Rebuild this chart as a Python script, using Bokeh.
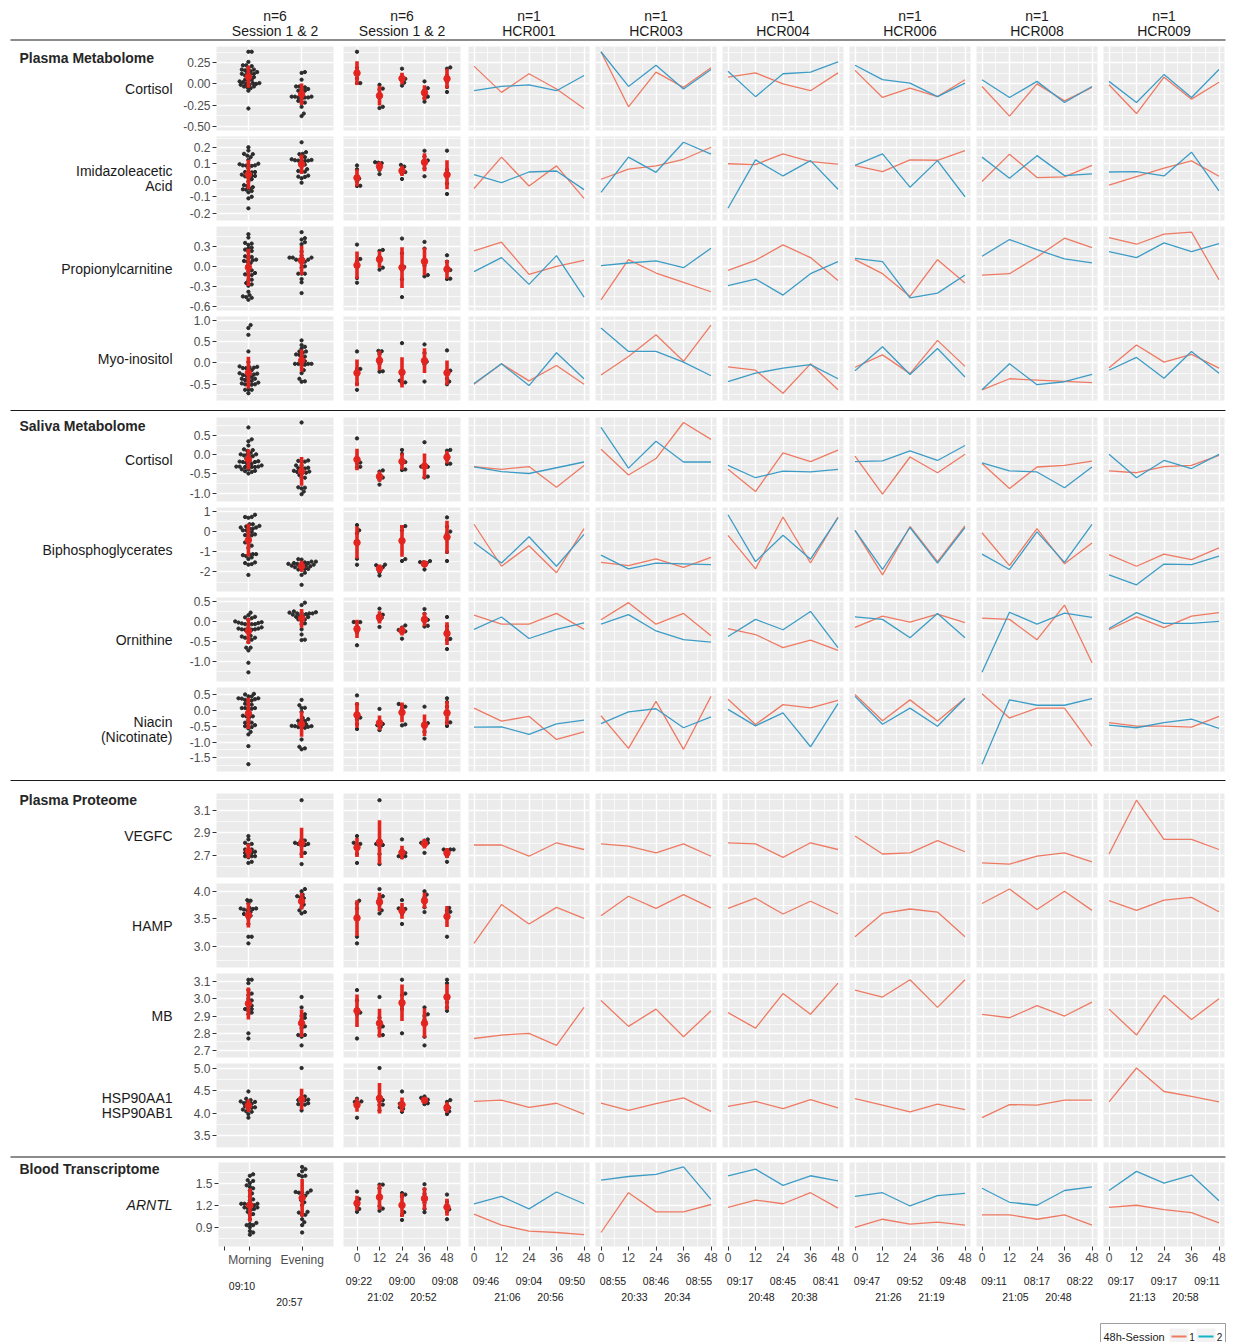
import numpy as np
from bokeh.plotting import figure
from bokeh.layouts import column, row
from bokeh.models import FixedTicker, Range1d, LinearAxis, CustomJSTickFormatter, Grid, Label
from bokeh.embed import file_html
from bokeh.resources import INLINE
from bokeh.core.properties import value

# ----------------------------------------------------------------- data
SUBJECTS = ["HCR001", "HCR003", "HCR004", "HCR006", "HCR008", "HCR009"]
TIMEPOINTS = [0, 12, 24, 36, 48]
MORNING_POINTS = [0, 24, 48]
EVENING_POINTS = [12, 36]
GROUPS = ["Morning", "Evening"]

PLASMA_CORTISOL_S1 = {
    "HCR001": [0.21, -0.10, 0.12, -0.06, -0.29],
    "HCR003": [0.38, -0.27, 0.14, -0.04, 0.19],
    "HCR004": [0.08, 0.13, 0.00, -0.08, 0.13],
    "HCR006": [0.16, -0.16, -0.05, -0.15, 0.05],
    "HCR008": [-0.03, -0.38, 0.00, -0.20, -0.04],
    "HCR009": [-0.01, -0.35, 0.08, -0.18, 0.02],
}
PLASMA_CORTISOL_S2 = {
    "HCR001": [-0.08, -0.03, -0.01, -0.08, 0.10],
    "HCR003": [0.38, -0.03, 0.22, -0.06, 0.17],
    "HCR004": [0.15, -0.15, 0.12, 0.14, 0.26],
    "HCR006": [0.22, 0.05, 0.01, -0.15, 0.01],
    "HCR008": [0.05, -0.16, 0.03, -0.22, -0.03],
    "HCR009": [0.03, -0.22, 0.11, -0.16, 0.17],
}
IMIDAZOLEACETIC_S1 = {
    "HCR001": [-0.05, 0.14, -0.035, 0.087, -0.11],
    "HCR003": [0.006, 0.067, 0.087, 0.127, 0.20],
    "HCR004": [0.10, 0.095, 0.16, 0.113, 0.097],
    "HCR006": [0.089, 0.052, 0.123, 0.121, 0.18],
    "HCR008": [-0.008, 0.158, 0.016, 0.02, 0.09],
    "HCR009": [-0.03, 0.022, 0.073, 0.117, 0.024],
}
IMIDAZOLEACETIC_S2 = {
    "HCR001": [0.034, -0.015, 0.05, 0.056, -0.057],
    "HCR003": [-0.073, 0.14, 0.048, 0.23, 0.158],
    "HCR004": [-0.17, 0.123, 0.026, 0.119, -0.055],
    "HCR006": [0.09, 0.16, -0.042, 0.119, -0.10],
    "HCR008": [0.14, 0.012, 0.149, 0.028, 0.038],
    "HCR009": [0.05, 0.052, 0.026, 0.17, -0.065],
}
PROPIONYLCARNITINE_S1 = {
    "HCR001": [0.23, 0.36, -0.12, 0.00, 0.09],
    "HCR003": [-0.50, 0.10, -0.10, -0.24, -0.38],
    "HCR004": [-0.06, 0.09, 0.32, 0.13, -0.21],
    "HCR006": [0.10, -0.11, -0.45, 0.10, -0.25],
    "HCR008": [-0.13, -0.11, 0.14, 0.42, 0.28],
    "HCR009": [0.43, 0.33, 0.48, 0.51, -0.20],
}
PROPIONYLCARNITINE_S2 = {
    "HCR001": [-0.08, 0.13, -0.27, 0.16, -0.46],
    "HCR003": [0.01, 0.05, 0.08, -0.02, 0.27],
    "HCR004": [-0.29, -0.19, -0.43, -0.11, 0.07],
    "HCR006": [0.12, 0.07, -0.47, -0.40, -0.13],
    "HCR008": [0.15, 0.40, 0.25, 0.11, 0.05],
    "HCR009": [0.22, 0.13, 0.35, 0.22, 0.34],
}
MYO_INOSITOL_S1 = {
    "HCR001": [-0.50, -0.02, -0.42, -0.06, -0.50],
    "HCR003": [-0.28, 0.15, 0.66, 0.04, 0.89],
    "HCR004": [-0.09, -0.17, -0.71, -0.02, -0.63],
    "HCR006": [-0.10, 0.19, -0.25, 0.53, -0.08],
    "HCR008": [-0.63, -0.37, -0.40, -0.43, -0.46],
    "HCR009": [-0.11, 0.42, 0.02, 0.20, -0.12],
}
MYO_INOSITOL_S2 = {
    "HCR001": [-0.48, -0.02, -0.53, 0.24, -0.37],
    "HCR003": [0.82, 0.27, 0.27, 0.02, -0.30],
    "HCR004": [-0.44, -0.24, -0.12, -0.04, -0.37],
    "HCR006": [-0.18, 0.38, -0.27, 0.34, -0.33],
    "HCR008": [-0.63, -0.02, -0.51, -0.44, -0.27],
    "HCR009": [-0.17, 0.13, -0.36, 0.27, -0.24],
}
SALIVA_CORTISOL_S1 = {
    "HCR001": [-0.31, -0.38, -0.31, -0.85, -0.28],
    "HCR003": [0.14, -0.53, -0.10, 0.84, 0.40],
    "HCR004": [-0.38, -0.96, 0.05, -0.18, 0.12],
    "HCR006": [-0.04, -1.03, -0.06, -0.47, 0.01],
    "HCR008": [-0.23, -0.88, -0.32, -0.28, -0.17],
    "HCR009": [-0.42, -0.47, -0.31, -0.28, -0.02],
}
SALIVA_CORTISOL_S2 = {
    "HCR001": [-0.32, -0.44, -0.49, -0.34, -0.19],
    "HCR003": [0.71, -0.35, 0.35, -0.19, -0.19],
    "HCR004": [-0.28, -0.60, -0.43, -0.45, -0.38],
    "HCR006": [-0.18, -0.16, 0.10, -0.15, 0.24],
    "HCR008": [-0.21, -0.42, -0.45, -0.86, -0.32],
    "HCR009": [0.01, -0.60, -0.15, -0.36, 0.01],
}
BIPHOSPHOGLYCERATES_S1 = {
    "HCR001": [0.36, -1.72, -0.70, -2.04, 0.14],
    "HCR003": [-1.53, -1.69, -1.36, -1.77, -1.28],
    "HCR004": [-0.19, -1.85, 0.72, -1.56, 0.72],
    "HCR006": [0.06, -2.15, 0.25, -1.49, 0.28],
    "HCR008": [-0.06, -1.69, 0.14, -1.60, -0.57],
    "HCR009": [-1.14, -1.72, -1.12, -1.39, -0.81],
}
BIPHOSPHOGLYCERATES_S2 = {
    "HCR001": [-0.54, -1.56, -0.26, -1.72, -0.14],
    "HCR003": [-1.17, -1.85, -1.56, -1.60, -1.64],
    "HCR004": [0.83, -1.49, -0.18, -1.37, 0.68],
    "HCR006": [0.06, -1.88, 0.20, -1.56, 0.20],
    "HCR008": [-1.12, -1.88, -0.02, -1.53, 0.36],
    "HCR009": [-2.15, -2.64, -1.61, -1.64, -1.22],
}
ORNITHINE_S1 = {
    "HCR001": [0.155, -0.07, -0.07, 0.20, -0.20],
    "HCR003": [0.04, 0.47, -0.07, 0.20, -0.36],
    "HCR004": [-0.18, -0.33, -0.66, -0.47, -0.73],
    "HCR006": [-0.15, 0.13, -0.02, 0.18, -0.03],
    "HCR008": [0.08, 0.05, -0.46, 0.41, -1.04],
    "HCR009": [-0.21, 0.115, -0.155, 0.13, 0.22],
}
ORNITHINE_S2 = {
    "HCR001": [-0.20, 0.11, -0.43, -0.20, -0.04],
    "HCR003": [-0.07, 0.17, -0.24, -0.46, -0.52],
    "HCR004": [-0.38, 0.05, -0.21, 0.25, -0.66],
    "HCR006": [0.115, 0.05, -0.41, 0.20, -0.41],
    "HCR008": [-1.28, 0.23, -0.07, 0.21, 0.10],
    "HCR009": [-0.18, 0.22, -0.05, -0.05, 0.00],
}
NIACIN_S1 = {
    "HCR001": [0.07, -0.34, -0.19, -0.92, -0.68],
    "HCR003": [-0.17, -1.20, 0.28, -1.23, 0.44],
    "HCR004": [0.35, -0.45, 0.18, 0.08, 0.31],
    "HCR006": [0.50, -0.33, 0.33, -0.34, 0.38],
    "HCR008": [0.52, -0.24, 0.07, 0.07, -1.13],
    "HCR009": [-0.39, -0.50, -0.50, -0.53, -0.19],
}
NIACIN_S2 = {
    "HCR001": [-0.53, -0.52, -0.76, -0.43, -0.31],
    "HCR003": [-0.42, -0.05, 0.05, -0.55, -0.21],
    "HCR004": [0.03, -0.49, -0.08, -1.15, 0.21],
    "HCR006": [0.44, -0.44, 0.07, -0.50, 0.38],
    "HCR008": [-1.70, 0.33, 0.16, 0.16, 0.37],
    "HCR009": [-0.47, -0.55, -0.39, -0.28, -0.57],
}
VEGFC_S1 = {
    "HCR001": [2.79, 2.79, 2.69, 2.81, 2.75],
    "HCR003": [2.80, 2.78, 2.72, 2.80, 2.69],
    "HCR004": [2.81, 2.80, 2.68, 2.81, 2.75],
    "HCR006": [2.87, 2.71, 2.72, 2.83, 2.73],
    "HCR008": [2.63, 2.62, 2.69, 2.72, 2.64],
    "HCR009": [2.71, 3.19, 2.84, 2.84, 2.75],
}
HAMP_S1 = {
    "HCR001": [3.06, 3.76, 3.41, 3.71, 3.51],
    "HCR003": [3.56, 3.91, 3.69, 3.94, 3.70],
    "HCR004": [3.69, 3.875, 3.59, 3.82, 3.59],
    "HCR006": [3.18, 3.60, 3.68, 3.625, 3.18],
    "HCR008": [3.78, 4.04, 3.67, 4.00, 3.655],
    "HCR009": [3.83, 3.655, 3.84, 3.89, 3.63],
}
MB_S1 = {
    "HCR001": [2.77, 2.79, 2.80, 2.73, 2.95],
    "HCR003": [2.99, 2.84, 2.94, 2.78, 2.93],
    "HCR004": [2.92, 2.83, 3.03, 2.91, 3.09],
    "HCR006": [3.05, 3.01, 3.11, 2.95, 3.11],
    "HCR008": [2.91, 2.89, 2.96, 2.90, 2.98],
    "HCR009": [2.94, 2.79, 3.02, 2.88, 3.00],
}
HSP90_S1 = {
    "HCR001": [4.26, 4.29, 4.13, 4.22, 3.98],
    "HCR003": [4.22, 4.06, 4.21, 4.34, 4.04],
    "HCR004": [4.15, 4.26, 4.10, 4.30, 4.12],
    "HCR006": [4.32, 4.18, 4.03, 4.20, 4.08],
    "HCR008": [3.90, 4.19, 4.18, 4.29, 4.29],
    "HCR009": [4.25, 5.00, 4.48, 4.37, 4.25],
}
ARNTL_S1 = {
    "HCR001": [1.08, 0.93, 0.85, 0.83, 0.80],
    "HCR003": [0.83, 1.37, 1.11, 1.11, 1.21],
    "HCR004": [1.17, 1.27, 1.22, 1.37, 1.16],
    "HCR006": [0.90, 1.01, 0.945, 0.97, 0.93],
    "HCR008": [1.07, 1.07, 1.01, 1.07, 0.93],
    "HCR009": [1.17, 1.20, 1.14, 1.10, 0.96],
}
ARNTL_S2 = {
    "HCR001": [1.22, 1.32, 1.15, 1.38, 1.22],
    "HCR003": [1.54, 1.59, 1.62, 1.72, 1.28],
    "HCR004": [1.60, 1.69, 1.47, 1.60, 1.53],
    "HCR006": [1.32, 1.37, 1.19, 1.33, 1.36],
    "HCR008": [1.43, 1.24, 1.20, 1.40, 1.45],
    "HCR009": [1.40, 1.66, 1.50, 1.61, 1.26],
}

CLOCK_GROUP = ["09:10", "20:57"]
CLOCK_POOLED = ["09:22", "21:02", "09:00", "20:52", "09:08"]
CLOCK_SUBJECT = {
    "HCR001": ["09:46", "21:06", "09:04", "20:56", "09:50"],
    "HCR003": ["08:55", "20:33", "08:46", "20:34", "08:55"],
    "HCR004": ["09:17", "20:48", "08:45", "20:38", "08:41"],
    "HCR006": ["09:47", "21:26", "09:52", "21:19", "09:48"],
    "HCR008": ["09:11", "21:05", "08:17", "20:48", "08:22"],
    "HCR009": ["09:17", "21:13", "09:17", "20:58", "09:11"],
}

SECTIONS = ["Plasma Metabolome", "Saliva Metabolome", "Plasma Proteome", "Blood Transcriptome"]

# feature rows: (section, label lines, session1, session2, y ticks, y tick labels, y range)
ROWS = [
    (SECTIONS[0], ["Cortisol"], PLASMA_CORTISOL_S1, PLASMA_CORTISOL_S2,
     [-0.5, -0.25, 0.0, 0.25], ["-0.50", "-0.25", "0.00", "0.25"], (-0.55, 0.442)),
    (None, ["Imidazoleacetic", "Acid"], IMIDAZOLEACETIC_S1, IMIDAZOLEACETIC_S2,
     [-0.2, -0.1, 0.0, 0.1, 0.2], ["-0.2", "-0.1", "0.0", "0.1", "0.2"], (-0.244, 0.265)),
    (None, ["Propionylcarnitine"], PROPIONYLCARNITINE_S1, PROPIONYLCARNITINE_S2,
     [-0.6, -0.3, 0.0, 0.3], ["-0.6", "-0.3", "0.0", "0.3"], (-0.66, 0.595)),
    (None, ["Myo-inositol"], MYO_INOSITOL_S1, MYO_INOSITOL_S2,
     [-0.5, 0.0, 0.5, 1.0], ["-0.5", "0.0", "0.5", "1.0"], (-0.88, 1.09)),
    (SECTIONS[1], ["Cortisol"], SALIVA_CORTISOL_S1, SALIVA_CORTISOL_S2,
     [-1.0, -0.5, 0.0, 0.5], ["-1.0", "-0.5", "0.0", "0.5"], (-1.22, 0.97)),
    (None, ["Biphosphoglycerates"], BIPHOSPHOGLYCERATES_S1, BIPHOSPHOGLYCERATES_S2,
     [-2, -1, 0, 1], ["-2", "-1", "0", "1"], (-2.97, 1.19)),
    (None, ["Ornithine"], ORNITHINE_S1, ORNITHINE_S2,
     [-1.0, -0.5, 0.0, 0.5], ["-1.0", "-0.5", "0.0", "0.5"], (-1.51, 0.60)),
    (None, ["Niacin", "(Nicotinate)"], NIACIN_S1, NIACIN_S2,
     [-1.5, -1.0, -0.5, 0.0, 0.5], ["-1.5", "-1.0", "-0.5", "0.0", "0.5"], (-1.93, 0.72)),
    (SECTIONS[2], ["VEGFC"], VEGFC_S1, None,
     [2.7, 2.9, 3.1], ["2.7", "2.9", "3.1"], (2.5, 3.25)),
    (None, ["HAMP"], HAMP_S1, None,
     [3.0, 3.5, 4.0], ["3.0", "3.5", "4.0"], (2.625, 4.14)),
    (None, ["MB"], MB_S1, None,
     [2.7, 2.8, 2.9, 3.0, 3.1], ["2.7", "2.8", "2.9", "3.0", "3.1"], (2.66, 3.146)),
    (None, ["HSP90AA1", "HSP90AB1"], HSP90_S1, None,
     [3.5, 4.0, 4.5, 5.0], ["3.5", "4.0", "4.5", "5.0"], (3.24, 5.1)),
    (SECTIONS[3], ["ARNTL"], ARNTL_S1, ARNTL_S2,
     [0.9, 1.2, 1.5], ["0.9", "1.2", "1.5"], (0.64, 1.78)),
]

# ----------------------------------------------------------------- style / layout
FONT = "Liberation Sans"
PANEL_BG = "#EBEBEB"
PT_COLOR = "#2B2B2B"
SUM_COLOR = "#E3241F"
S1_COLOR = "#EE7A63"
S2_COLOR = "#3D9CC6"
TEXT_DARK = "#1A1A1A"
TICK_TEXT = "#4D4D4D"

TOTAL_W = 1226
LABEL_W, C1_W, C1_BL, C1_BR = 178, 160, 38, 5
LABEL_W_B, C1_W_B, C1_BL_B = 192, 146, 24
C2_W, C2_BL, C2_BR = 127, 5, 5
LN_W, LN_BL, LN_BR = 127, 3, 3
FRAME_H, BT, BB = 84, 3, 3
BB_BOTTOM = 64
ROW_BT = {8: 7}          # extra room above the "Plasma Proteome" row

C1_XR = (0.4, 2.6)
C2_XR = (-7.2, 55.2)
LN_XR = (-2.4, 50.4)
C1_FRAME_W = C1_W - C1_BL - C1_BR
C2_FRAME_W = C2_W - C2_BL - C2_BR
LN_FRAME_W = LN_W - LN_BL - LN_BR

NEAREST = """
let best = 0;
for (let i = 1; i < pos.length; i++) {
  if (Math.abs(pos[i] - tick) < Math.abs(pos[best] - tick)) { best = i; }
}
return labels[best];
"""


def fmt(pos, labels):
    return CustomJSTickFormatter(args=dict(pos=list(pos), labels=list(labels)), code=NEAREST)


def minor_of(ticks, lo, hi):
    step = ticks[1] - ticks[0]
    cands = [ticks[0] - step / 2] + [t + step / 2 for t in ticks]
    return [c for c in cands if lo < c < hi]


def swarm(vals, center, ppx, ppy, d=3.3):
    vals = np.asarray(vals, float)
    order = np.argsort(vals, kind="stable")
    placed = []
    xs = np.zeros(len(vals))
    for i in order:
        y = vals[i] * ppy
        chosen = 0.0
        for k in range(0, 200):
            cands = [0.0] if k == 0 else [k * d / 3, -k * d / 3]
            ok_c = None
            for c in cands:
                if all((c - px) ** 2 + (y - py) ** 2 >= d * d * 0.98 for px, py in placed):
                    ok_c = c
                    break
            if ok_c is not None:
                chosen = ok_c
                break
        placed.append((chosen, y))
        xs[i] = center + chosen / ppx
    return xs


def deco_fig(w, h, bt=0, bb=0):
    # y data units = pixels below the frame top
    fh = h - bt - bb
    p = figure(width=w, height=h, x_range=Range1d(0, w), y_range=Range1d(fh, 0),
               output_backend="svg", toolbar_location=None,
               x_axis_location=None, y_axis_location=None,
               min_border_left=0, min_border_right=0, min_border_top=bt, min_border_bottom=bb)
    p.grid.visible = False
    p.outline_line_color = None
    p.background_fill_color = "white"
    p.border_fill_color = "white"
    return p


def add_label(p, x, y, text, align="left", size="14px", style="normal", color=TEXT_DARK):
    p.add_layout(Label(x=x, y=y, text=text, text_align=align, text_baseline="middle",
                       text_font=FONT, text_font_size=size, text_font_style=style,
                       text_color=color))


def panel_fig(w, h, xr, yr, bl, br, bt, bb, yaxis=False, xaxis=False):
    p = figure(width=w, height=h, x_range=Range1d(*xr), y_range=Range1d(*yr),
               output_backend="svg", toolbar_location=None,
               x_axis_location="below" if xaxis else None,
               y_axis_location="left" if yaxis else None,
               min_border_left=bl, min_border_right=br,
               min_border_top=bt, min_border_bottom=bb)
    p.background_fill_color = PANEL_BG
    p.border_fill_color = "white"
    p.outline_line_color = None
    p.center = [r for r in p.center if not isinstance(r, Grid)]
    return p


def add_grids(p, xt, xminor, yt, yminor):
    gx = Grid(dimension=0, ticker=FixedTicker(ticks=xt, minor_ticks=xminor),
              grid_line_color="white", grid_line_width=1.4,
              minor_grid_line_color="white" if xminor else None, minor_grid_line_width=0.7)
    gy = Grid(dimension=1, ticker=FixedTicker(ticks=yt, minor_ticks=yminor),
              grid_line_color="white", grid_line_width=1.4,
              minor_grid_line_color="white", minor_grid_line_width=0.7)
    p.add_layout(gx, "center")
    p.add_layout(gy, "center")


def style_axis(ax, size="12px", color=TICK_TEXT):
    ax.axis_line_color = None
    ax.major_tick_line_color = "#333333"
    ax.major_tick_out = 4
    ax.major_tick_in = 0
    ax.minor_tick_line_color = None
    ax.major_label_standoff = 2
    ax.major_label_text_font = FONT
    ax.major_label_text_font_size = size
    ax.major_label_text_color = color


def add_clock_axis(p, pos, labels, standoff):
    ax = LinearAxis(ticker=FixedTicker(ticks=list(pos)), formatter=fmt(pos, labels))
    ax.axis_line_color = None
    ax.major_tick_line_color = None
    ax.minor_tick_line_color = None
    ax.major_tick_out = 0
    ax.major_tick_in = 0
    ax.major_label_standoff = standoff
    ax.major_label_text_font = FONT
    ax.major_label_text_font_size = "10.5px"
    ax.major_label_text_color = TEXT_DARK
    p.add_layout(ax, "below")


def sessions_of(s1, s2):
    return [s1] if s2 is None else [s1, s2]


# clock label placement (evenly spread labels, as in the reference)
CLOCK_STEP_PX = 21.5
MAIN_STANDOFF, CLOCK1_STANDOFF, CLOCK2_STANDOFF = 2, 10, 1


def clock_positions(frame_w, xr):
    ppx = frame_w / (xr[1] - xr[0])
    k = CLOCK_STEP_PX / (12 * ppx)
    return [24 + (t - 24) * k for t in TIMEPOINTS]


# ----------------------------------------------------------------- build
layout_rows = []

# header
header = deco_fig(TOTAL_W, 43)
col_centers = []
x0 = LABEL_W
col_centers.append(x0 + C1_BL + C1_FRAME_W / 2)
x0 += C1_W
col_centers.append(x0 + C2_BL + C2_FRAME_W / 2)
x0 += C2_W
for _ in SUBJECTS:
    col_centers.append(x0 + LN_BL + LN_FRAME_W / 2)
    x0 += LN_W
top_texts = ["n=6", "n=6"] + ["n=1"] * len(SUBJECTS)
bot_texts = ["Session 1 & 2", "Session 1 & 2"] + SUBJECTS
header.text(x=col_centers, y=[15.7] * len(col_centers), text=top_texts, text_align="center",
            text_baseline="middle", text_font=value(FONT), text_font_size=value("14px"),
            text_color=TEXT_DARK)
header.text(x=col_centers, y=[30.7] * len(col_centers), text=bot_texts, text_align="center",
            text_baseline="middle", text_font=value(FONT), text_font_size=value("14px"),
            text_color=TEXT_DARK)
header.line([10, TOTAL_W - 1], [39.5, 39.5], line_color=TEXT_DARK, line_width=1.1)
layout_rows.append(header)

SEP_AFTER = {3: (11, 6.0), 7: (12, 6.0), 11: (9, 3.5)}
TITLE_Y = {0: 11.0, 4: 8.7, 8: 6.3, 12: 6.3}   # pixels below the frame top

for ri, (section, label_lines, s1, s2, yt, ytl, yr) in enumerate(ROWS):
    bottom = ri == len(ROWS) - 1
    bt = ROW_BT.get(ri, BT)
    bb = BB_BOTTOM if bottom else BB
    h = FRAME_H + bt + bb
    sess = sessions_of(s1, s2)
    yminor = minor_of(yt, yr[0], yr[1])
    ppy = FRAME_H / (yr[1] - yr[0])
    figs = []

    # --- label column
    lw = LABEL_W_B if bottom else LABEL_W
    lab = deco_fig(lw, h, bt, bb)
    cy = FRAME_H / 2
    n = len(label_lines)
    for i, line in enumerate(label_lines):
        add_label(lab, 172, cy + (i - (n - 1) / 2) * 15, line, align="right",
                  style="italic" if section == SECTIONS[3] else "normal")
    if section is not None:
        add_label(lab, 19, TITLE_Y[ri], section, style="bold", color="#262626")
    if bottom:
        add_label(lab, 190, 94, "Collection time of day / point", align="right", size="12px")
        add_label(lab, 190, 131, "Clock Time [HH:mm]", align="right", size="12px")
    figs.append(lab)

    # --- column 1: morning / evening swarm
    c1w = C1_W_B if bottom else C1_W
    c1bl = C1_BL_B if bottom else C1_BL
    p1 = panel_fig(c1w, h, C1_XR, yr, c1bl, C1_BR, bt, bb, yaxis=True, xaxis=bottom)
    add_grids(p1, [1, 2], [], yt, yminor)
    ya = p1.yaxis[0]
    ya.ticker = FixedTicker(ticks=yt)
    ya.formatter = fmt(yt, ytl)
    style_axis(ya)
    ppx1 = C1_FRAME_W / (C1_XR[1] - C1_XR[0])
    for gi, pts in enumerate([MORNING_POINTS, EVENING_POINTS]):
        vals = [ss[s][TIMEPOINTS.index(t)] for s in SUBJECTS for ss in sess for t in pts]
        xs = swarm(vals, gi + 1, ppx1, ppy)
        p1.scatter(xs, vals, size=3.3, color=PT_COLOR)
        m, sd = float(np.mean(vals)), float(np.std(vals, ddof=1))
        p1.segment([gi + 1], [m - sd], [gi + 1], [m + sd], line_width=3.6, line_color=SUM_COLOR)
        p1.scatter([gi + 1], [m], size=6.5, color=SUM_COLOR)
    if bottom:
        xa = p1.xaxis[0]
        xa.ticker = FixedTicker(ticks=[0.51, 1, 2])
        xa.formatter = fmt([0.51, 1, 2], [""] + GROUPS)
        style_axis(xa)
        xa.major_label_standoff = MAIN_STANDOFF
        add_clock_axis(p1, [1 - 8 / ppx1], [CLOCK_GROUP[0]], CLOCK1_STANDOFF)
        add_clock_axis(p1, [2 - 13 / ppx1], [CLOCK_GROUP[1]], CLOCK2_STANDOFF)
    figs.append(p1)

    # --- column 2: pooled per time point
    p2 = panel_fig(C2_W, h, C2_XR, yr, C2_BL, C2_BR, bt, bb, xaxis=bottom)
    add_grids(p2, TIMEPOINTS, [], yt, yminor)
    ppx2 = C2_FRAME_W / (C2_XR[1] - C2_XR[0])
    for k, t in enumerate(TIMEPOINTS):
        vals = [float(np.mean([ss[s][k] for ss in sess])) for s in SUBJECTS]
        xs = swarm(vals, t, ppx2, ppy)
        p2.scatter(xs, vals, size=3.3, color=PT_COLOR)
        m, sd = float(np.mean(vals)), float(np.std(vals, ddof=1))
        p2.segment([t], [m - sd], [t], [m + sd], line_width=3.6, line_color=SUM_COLOR)
        p2.scatter([t], [m], size=6.5, color=SUM_COLOR)
    if bottom:
        xa = p2.xaxis[0]
        xa.ticker = FixedTicker(ticks=TIMEPOINTS)
        style_axis(xa)
        xa.major_label_standoff = MAIN_STANDOFF
        cp = clock_positions(C2_FRAME_W, C2_XR)
        add_clock_axis(p2, cp[0::2], CLOCK_POOLED[0::2], CLOCK1_STANDOFF)
        add_clock_axis(p2, cp[1::2], CLOCK_POOLED[1::2], CLOCK2_STANDOFF)
    figs.append(p2)

    # --- individual subjects
    for si, subj in enumerate(SUBJECTS):
        last = si == len(SUBJECTS) - 1
        w = LN_W - 1 if last else LN_W
        br = LN_BR - 1 if last else LN_BR
        pl = panel_fig(w, h, LN_XR, yr, LN_BL, br, bt, bb, xaxis=bottom)
        add_grids(pl, TIMEPOINTS, [6, 18, 30, 42], yt, yminor)
        pl.line(TIMEPOINTS, s1[subj], line_color=S1_COLOR, line_width=1.3)
        if s2 is not None:
            pl.line(TIMEPOINTS, s2[subj], line_color=S2_COLOR, line_width=1.3)
        if bottom:
            xa = pl.xaxis[0]
            xa.ticker = FixedTicker(ticks=TIMEPOINTS)
            style_axis(xa)
            xa.major_label_standoff = MAIN_STANDOFF
            cp = clock_positions(LN_FRAME_W, LN_XR)
            add_clock_axis(pl, cp[0::2], CLOCK_SUBJECT[subj][0::2], CLOCK1_STANDOFF)
            add_clock_axis(pl, cp[1::2], CLOCK_SUBJECT[subj][1::2], CLOCK2_STANDOFF)
        figs.append(pl)

    layout_rows.append(row(*figs))

    if ri in SEP_AFTER:
        sh, sy = SEP_AFTER[ri]
        sep = deco_fig(TOTAL_W, sh)
        sep.line([10, TOTAL_W - 1], [sy, sy], line_color=TEXT_DARK, line_width=1.1)
        layout_rows.append(sep)

# footer with legend
foot = deco_fig(TOTAL_W, 32)
foot.quad(left=[1100], right=[1225], top=[13], bottom=[60], fill_color="white",
          line_color="#9E9E9E", line_width=1)
foot.text(x=[1103], y=[26], text=["48h-Session"], text_align="left", text_baseline="middle",
          text_font=value(FONT), text_font_size=value("11px"), text_color=TEXT_DARK)
foot.quad(left=[1169, 1196], right=[1188, 1215], top=[18, 18], bottom=[34, 34],
          fill_color="#F2F2F2", line_color=None)
foot.segment(x0=[1171, 1198], y0=[26, 26], x1=[1186, 1213], y1=[26, 26],
             line_color=[S1_COLOR, "#14B4C8"], line_width=2)
foot.text(x=[1191.5, 1219], y=[26, 26], text=["1", "2"], text_align="center",
          text_baseline="middle", text_font=value(FONT), text_font_size=value("10px"),
          text_color=TEXT_DARK)
layout_rows.append(foot)

page = column(*layout_rows, spacing=0)
open("out.html", "w").write(file_html(page, INLINE))
